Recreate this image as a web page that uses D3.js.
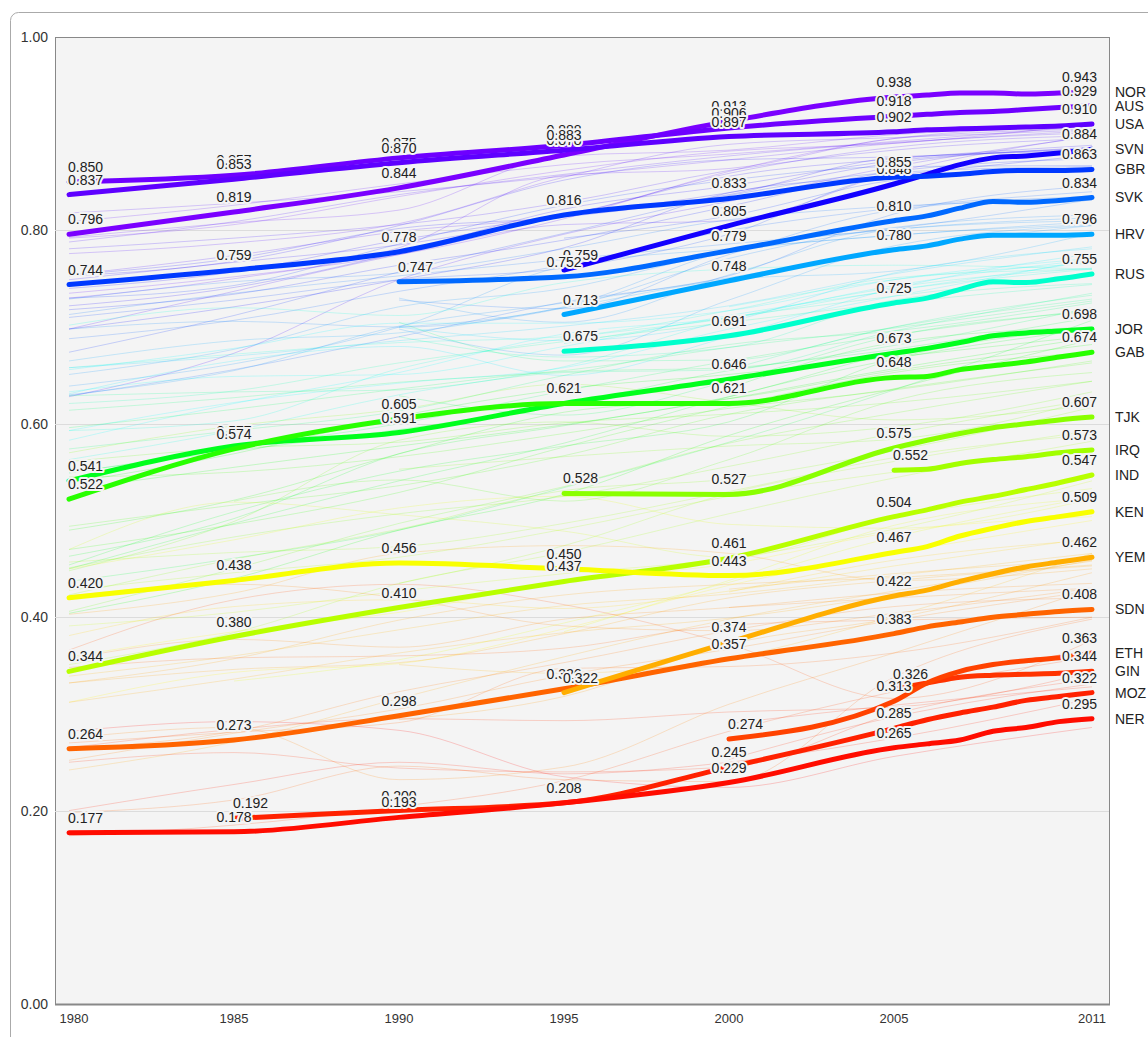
<!DOCTYPE html>
<html>
<head>
<meta charset="utf-8">
<script src="https://cdn.jsdelivr.net/npm/d3@7"></script>
<style>
body { margin: 0; background: #fff; font-family: "Liberation Sans", Arial, sans-serif; }
</style>
</head>
<body>
<script>
// years with data for the highlighted countries
var years = [1980, 1985, 1990, 1995, 2000, 2005, 2006, 2007, 2008, 2009, 2010, 2011];
var labelYears = [1980, 1985, 1990, 1995, 2000, 2005, 2011];
var xTicks = [1980, 1985, 1990, 1995, 2000, 2005, 2011];
var yTicks = [0, 0.2, 0.4, 0.6, 0.8, 1.0];

var codes = ["NOR", "AUS", "USA", "SVN", "GBR", "SVK", "HRV", "RUS", "JOR", "GAB",
             "TJK", "IRQ", "IND", "KEN", "SDN", "YEM", "GIN", "ETH", "MOZ", "NER"];
var values = [
  [.796, .819, .844, .878, .913, .938, .940, .942, .942, .941, .942, .943],
  [.850, .857, .875, .888, .906, .918, .920, .922, .923, .925, .927, .929],
  [.837, .853, .870, .883, .897, .902, .904, .905, .906, .907, .908, .910],
  [null, null, null, .759, .805, .848, .858, .868, .875, .877, .880, .884],
  [.744, .759, .778, .816, .833, .855, .856, .858, .861, .862, .862, .863],
  [null, null, .747, .752, .779, .810, .815, .823, .830, .829, .831, .834],
  [null, null, null, .713, .748, .780, .784, .791, .795, .795, .795, .796],
  [null, null, null, .675, .691, .725, .730, .739, .747, .746, .750, .755],
  [.541, .577, .591, .621, .646, .673, .678, .684, .691, .694, .696, .698],
  [.522, .574, .605, .621, .621, .648, .649, .656, .660, .664, .669, .674],
  [null, null, null, .528, .527, .575, .583, .590, .596, .600, .604, .607],
  [null, null, null, null, null, .552, .553, .559, .563, .566, .570, .573],
  [.344, .380, .410, .437, .461, .504, .511, .519, .525, .532, .539, .547],
  [.420, .438, .456, .450, .443, .467, .473, .484, .492, .499, .504, .509],
  [.264, .273, .298, .326, .357, .383, .390, .395, .400, .403, .406, .408],
  [null, null, null, .322, .374, .422, .428, .437, .445, .452, .457, .462],
  [null, null, null, null, null, .326, .332, .338, .340, .341, .342, .344],
  [null, null, null, null, .274, .313, .332, .344, .351, .355, .358, .363],
  [null, .192, .200, .208, .245, .285, .294, .301, .307, .314, .318, .322],
  [.177, .178, .193, .208, .229, .265, .269, .273, .282, .286, .292, .295]
];

// all the other countries, drawn faint
var bgYears = [1980, 1985, 1990, 1995, 2000, 2005, 2011];
var bgCodes = ["NLD","DEU","IRL","NZL","CAN","SWE","CHE","JPN","HKG","ISL","KOR","DNK","ISR","BEL",
  "AUT","FRA","FIN","ESP","ITA","LUX","SGP","CZE","GRC","ARE","CYP","POL","EST","LTU","PRT","HUN",
  "QAT","CHL","ARG","LVA","MLT","BHR","KWT","SAU","URY","ROU","CUB","BLR","BGR","MEX","MYS","PAN",
  "SRB","TTO","KAZ","CRI","VEN","LBY","TUR","IRN","BRA","UKR","PER","ECU","COL","ARM","AZE","CHN",
  "THA","TUN","DZA","DOM","JAM","LKA","GEO","SLV","EGY","PHL","BOL","MNG","PRY","IDN","ZAF","VNM",
  "NAM","HND","GTM","NIC","MAR","BWA","GHA","COG","LAO","KHM","SWZ","BGD","PAK","CMR","PNG","TZA",
  "NGA","MDG","SEN","NPL","HTI","ZMB","TGO","MWI","RWA","BEN","AFG","ZWE","UGA","CIV","MLI","BFA",
  "TCD","SLE","CAF","BDI","COD","LSO","GMB","MRT","DJI"];
var bgValues = [
  [.792,.806,.835,.862,.882,.890,.910],[.730,.750,.782,.857,.864,.895,.905],
  [.735,.752,.775,.812,.861,.895,.908],[.793,.808,.821,.877,.883,.899,.908],
  [.809,.826,.848,.868,.879,.892,.908],[.776,.787,.807,.855,.889,.896,.904],
  [.818,.828,.840,.856,.873,.890,.903],[.788,.809,.837,.858,.877,.891,.901],
  [.698,.737,.775,.806,.810,.860,.898],[.754,.774,.799,.816,.859,.886,.898],
  [.628,.673,.749,.796,.830,.866,.897],[.781,.792,.806,.829,.862,.883,.895],
  [.749,.767,.785,.815,.856,.874,.888],[.753,.768,.805,.852,.873,.876,.886],
  [.740,.757,.790,.815,.839,.870,.885],[.722,.741,.777,.822,.846,.872,.884],
  [.754,.771,.802,.814,.837,.875,.882],[.698,.721,.749,.782,.839,.857,.878],
  [.718,.734,.764,.790,.825,.861,.874],[.730,.743,.786,.826,.852,.866,.867],
  [.674,.712,.757,.797,.836,.860,.866],[null,null,null,.792,.815,.852,.865],
  [.710,.728,.749,.761,.796,.856,.861],[.629,.656,.690,.726,.753,.817,.846],
  [.688,.707,.737,.764,.800,.823,.840],[null,null,.700,.721,.779,.801,.813],
  [null,null,.728,.719,.775,.821,.835],[null,null,.730,.705,.754,.801,.810],
  [.639,.662,.700,.763,.781,.795,.809],[.698,.706,.700,.720,.771,.803,.816],
  [.729,.747,.756,.781,.811,.825,.831],[.630,.655,.701,.725,.751,.781,.805],
  [.665,.686,.694,.720,.749,.758,.797],[null,null,.698,.671,.728,.784,.805],
  [.713,.735,.753,.770,.786,.802,.832],[.651,.677,.721,.740,.778,.795,.806],
  [.702,.720,.712,.746,.760,.764,.760],[.583,.621,.653,.693,.710,.743,.770],
  [.658,.670,.686,.701,.722,.755,.783],[null,null,.700,.686,.706,.756,.781],
  [.631,.665,.680,.650,.690,.740,.776],[null,null,null,.683,.710,.732,.756],
  [.656,.678,.704,.704,.717,.749,.771],[.593,.622,.642,.658,.698,.732,.770],
  [.563,.593,.630,.659,.708,.741,.761],[.633,.649,.651,.680,.712,.738,.768],
  [null,null,null,null,.721,.749,.766],[.658,.672,.684,.690,.717,.751,.760],
  [null,null,.690,.669,.679,.728,.745],[.621,.634,.663,.685,.705,.725,.744],
  [.629,.633,.635,.653,.656,.696,.735],[.593,.603,.657,.688,.709,.738,.760],
  [.463,.502,.569,.598,.628,.673,.699],[.437,.461,.490,.534,.581,.635,.707],
  [.549,.575,.600,.634,.665,.692,.718],[null,null,.705,.665,.666,.700,.729],
  [.574,.593,.613,.650,.682,.696,.725],[.596,.615,.636,.654,.658,.681,.720],
  [.550,.572,.594,.620,.655,.677,.710],[null,null,.629,.609,.644,.691,.716],
  [null,null,null,null,.637,.684,.700],[.404,.440,.490,.527,.588,.636,.687],
  [.490,.521,.569,.612,.626,.655,.682],[.450,.497,.541,.580,.628,.667,.698],
  [.454,.509,.551,.577,.602,.667,.698],[.532,.555,.577,.599,.626,.657,.689],
  [.614,.627,.643,.655,.679,.699,.727],[.539,.569,.608,.636,.651,.669,.691],
  [null,null,null,null,.656,.700,.733],[.470,.496,.529,.576,.618,.653,.674],
  [.406,.450,.497,.535,.580,.611,.644],[.561,.575,.581,.601,.610,.622,.644],
  [.494,.516,.536,.567,.610,.636,.663],[null,.520,.542,.520,.563,.624,.653],
  [.545,.550,.566,.590,.616,.635,.665],[.423,.460,.491,.531,.543,.572,.617],
  [.570,.598,.615,.641,.622,.604,.619],[null,null,.435,.474,.528,.561,.593],
  [null,null,.553,.566,.577,.584,.625],[.451,.483,.507,.525,.556,.590,.625],
  [.428,.446,.462,.491,.525,.550,.574],[.457,.467,.473,.497,.530,.565,.589],
  [.351,.384,.435,.467,.507,.544,.582],[.448,.499,.583,.602,.587,.597,.633],
  [.391,.405,.427,.445,.461,.491,.541],[.470,.519,.506,.489,.462,.503,.533],
  [null,.334,.356,.394,.436,.483,.524],[null,null,null,.385,.438,.495,.523],
  [.450,.480,.513,.525,.496,.492,.522],[.312,.343,.352,.388,.433,.466,.500],
  [.359,.385,.405,.437,.455,.488,.504],[.381,.411,.418,.409,.427,.453,.482],
  [.339,.360,.387,.412,.424,.443,.466],[null,null,.351,.342,.358,.401,.466],
  [null,null,null,null,.429,.445,.459],[null,null,null,null,.426,.459,.480],
  [.312,.336,.363,.384,.399,.423,.459],[.242,.271,.316,.359,.398,.427,.458],
  [.332,.357,.397,.423,.434,.441,.454],[.422,.434,.420,.391,.386,.404,.430],
  [.357,.377,.369,.398,.410,.425,.435],[.270,.281,.291,.347,.349,.363,.400],
  [.275,.286,.232,.245,.310,.363,.429],[.252,.280,.305,.340,.367,.397,.427],
  [.198,.211,.246,.232,.230,.338,.398],[.366,.418,.434,.413,.372,.316,.376],
  [null,null,.294,.318,.372,.399,.446],[.348,.358,.360,.368,.392,.397,.400],
  [.174,.185,.204,.231,.282,.323,.359],[null,null,null,null,.253,.297,.331],
  [null,null,null,null,.290,.309,.328],[.250,.260,.244,.240,.245,.300,.336],
  [.265,.284,.295,.293,.302,.307,.343],[.200,.227,.250,.238,.250,.275,.316],
  [.282,.292,.283,.235,.224,.256,.286],[.403,.425,.466,.474,.466,.438,.450],
  [.263,.282,.323,.353,.386,.411,.420],[.332,.346,.353,.383,.420,.438,.453],
  [null,null,null,null,.410,.420,.430]
];

// 2011 value -> hue
var hueStops = [0.28, 0.36, 0.41, 0.46, 0.51, 0.55, 0.61, 0.67, 0.70, 0.755, 0.80, 0.86, 0.885, 0.91, 0.95];
var hueValues = [0, 15, 24, 40, 62, 78, 88, 108, 128, 168, 204, 224, 245, 262, 270];

var width = 1148;
var height = 1037;
var plotLeft = 55, plotRight = 1109, plotTop = 37, plotBottom = 1004;

var x = d3.scaleLinear().domain([1980, 2011]).range([69, 1092]);
var y = d3.scaleLinear().domain([0, 1]).range([plotBottom, plotTop]);
var hue = d3.scaleLinear().domain(hueStops).range(hueValues).clamp(true);

function colour(v) {
	return d3.hsl(hue(v), 1, 0.5).toString();
}

function lastValue(vals) {
	for (var i = vals.length - 1; i >= 0; i--) if (vals[i] != null) return vals[i];
	return null;
}

var line = d3.line()
	.defined(function(d) { return d[1] != null; })
	.x(function(d) { return x(d[0]); })
	.y(function(d) { return y(d[1]); })
	.curve(d3.curveMonotoneX);

var svg = d3.select("body")
	.append("svg")
	.attr("width", width)
	.attr("height", height)
	.style("font-family", '"Liberation Sans", Arial, sans-serif');

// outer frame
svg.append("rect")
	.attr("x", 10.5).attr("y", 12.5)
	.attr("width", 1170).attr("height", 1040)
	.attr("rx", 8)
	.attr("fill", "#fff")
	.attr("stroke", "#aaa");

svg.append("rect")
	.attr("x", plotLeft + 0.5).attr("y", plotTop + 0.5)
	.attr("width", plotRight - plotLeft).attr("height", plotBottom - plotTop)
	.attr("fill", "#f4f4f4")
	.attr("stroke", "#888");

svg.append("g")
	.selectAll("line")
	.data(yTicks.filter(function(t) { return t > 0 && t < 1; }))
	.enter()
	.append("line")
	.attr("x1", plotLeft).attr("x2", plotRight)
	.attr("y1", function(d) { return Math.round(y(d)) + 0.5; })
	.attr("y2", function(d) { return Math.round(y(d)) + 0.5; })
	.attr("stroke", "#dcdcdc");

svg.append("line")
	.attr("x1", plotLeft).attr("x2", plotRight + 1)
	.attr("y1", plotBottom + 0.5).attr("y2", plotBottom + 0.5)
	.attr("stroke", "#888")
	.attr("stroke-width", 2);

svg.append("g")
	.selectAll("text")
	.data(yTicks)
	.enter()
	.append("text")
	.attr("x", 48)
	.attr("y", function(d) { return y(d); })
	.attr("dy", "0.35em")
	.attr("text-anchor", "end")
	.attr("font-size", 14)
	.attr("fill", "#333")
	.text(function(d) { return d3.format(".2f")(d); });

svg.append("g")
	.selectAll("text")
	.data(xTicks)
	.enter()
	.append("text")
	.attr("x", function(d) { return d == 1980 ? x(d) + 5 : x(d); })
	.attr("y", 1023)
	.attr("text-anchor", "middle")
	.attr("font-size", 13)
	.attr("fill", "#333")
	.text(function(d) { return d; });

// faint lines
svg.append("g")
	.selectAll("path")
	.data(bgValues)
	.enter()
	.append("path")
	.attr("d", function(vals) {
		return line(vals.map(function(v, i) { return [bgYears[i], v]; }));
	})
	.attr("fill", "none")
	.attr("stroke", function(vals) { return colour(lastValue(vals)); })
	.attr("stroke-width", 1)
	.attr("stroke-opacity", 0.2);

// highlighted lines
svg.append("g")
	.selectAll("path")
	.data(values)
	.enter()
	.append("path")
	.attr("d", function(vals) {
		return line(vals.map(function(v, i) { return [years[i], v]; }));
	})
	.attr("fill", "none")
	.attr("stroke", function(vals) { return colour(lastValue(vals)); })
	.attr("stroke-width", 5)
	.attr("stroke-linecap", "round");

// value labels
var labels = [];
values.forEach(function(vals) {
	var pts = [];
	labelYears.forEach(function(yr) {
		var v = vals[years.indexOf(yr)];
		if (v != null) pts.push([yr, v]);
	});
	pts.forEach(function(p, i) {
		var anchor = i == 0 ? "start" : (i == pts.length - 1 ? "end" : "middle");
		labels.push({ year: p[0], value: p[1], anchor: anchor });
	});
});

svg.append("g")
	.selectAll("text")
	.data(labels)
	.enter()
	.append("text")
	.attr("x", function(d) {
		if (d.anchor == "start") return x(d.year) - 1;
		if (d.anchor == "end") return x(d.year) + 5;
		return x(d.year);
	})
	.attr("y", function(d) { return y(d.value) - 10; })
	.attr("text-anchor", function(d) { return d.anchor; })
	.attr("font-size", 14)
	.attr("fill", "#222")
	.attr("stroke", "#f4f4f4")
	.attr("stroke-width", 4)
	.attr("stroke-linejoin", "round")
	.attr("paint-order", "stroke")
	.text(function(d) { return d3.format(".3f")(d.value); });

// country codes on the right
svg.append("g")
	.selectAll("text")
	.data(codes)
	.enter()
	.append("text")
	.attr("x", 1115)
	.attr("y", function(c, i) { return y(lastValue(values[i])); })
	.attr("dy", "0.35em")
	.attr("font-size", 14)
	.attr("fill", "#222")
	.text(function(c) { return c; });
</script>
</body>
</html>
